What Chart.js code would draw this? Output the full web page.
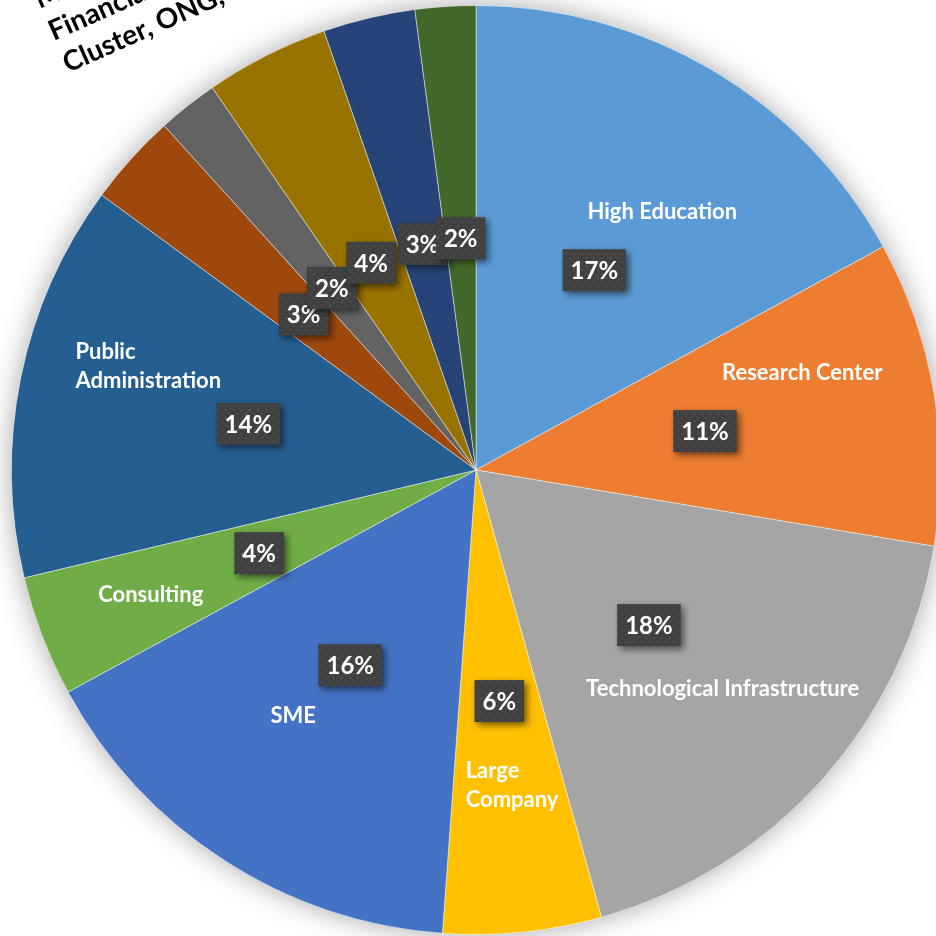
<!DOCTYPE html>
<html>
<head>
<meta charset="utf-8">
<script src="https://cdn.jsdelivr.net/npm/chart.js@4.4.1/dist/chart.umd.min.js"></script>
<style>
  html, body { margin: 0; padding: 0; background: #ffffff; overflow: hidden; width: 936px; height: 936px; }
  #wrap { position: absolute; left: 0; top: 0; width: 952px; height: 940px; }
</style>
</head>
<body>
<div id="wrap"><canvas id="c"></canvas></div>
<script>
// ---- data ----
const categories = [
  "High Education", "Research Center", "Technological Infrastructure", "Large Company",
  "SME", "Consulting", "Public Administration",
  "Media", "Financial Entity", "Cluster", "ONG", "Other"
];
const shares = [17.0, 10.6, 18.0, 5.5, 15.9, 4.2, 13.8, 3.2, 2.1, 4.3, 3.2, 2.1];
const sliceColors = [
  "#5B9BD5", "#ED7D31", "#A5A5A5", "#FFC000", "#4472C4", "#70AD47",
  "#255E91", "#9E480E", "#636363", "#997300", "#264478", "#43682B"
];
// category-name label lines shown inside the large slices (null = not shown inside)
const nameLines = [
  ["High Education"], ["Research Center"], ["Technological Infrastructure"], ["Large", "Company"],
  ["SME"], ["Consulting"], ["Public", "Administration"], null, null, null, null, null
];
// outside (cut-off) label for the small slices
const otherLabelLines = ["Media, Association,", "Financial Entity,", "Cluster, ONG, Other"];

// ---- label placement (polar, relative to each slice) ----
const nameAngleOffsetDeg = [5.2, -7.0, -0.3, -0.75, 3.8, 0, 6.1, 0, 0, 0, 0, 0];
const nameRadiusFrac = [0.685, 0.733, 0.71, 0.684, 0.66, 0.75, 0.74, 0, 0, 0, 0, 0];

const total = shares.reduce((a, b) => a + b, 0);

function makeDotPattern(ctx) {
  const p = document.createElement('canvas');
  p.width = 8; p.height = 8;
  const pc = p.getContext('2d');
  pc.fillStyle = '#404040';
  pc.fillRect(0, 0, 8, 8);
  pc.fillStyle = 'rgba(255,255,255,0.07)';
  pc.beginPath(); pc.arc(2, 2, 1.3, 0, Math.PI * 2); pc.fill();
  pc.beginPath(); pc.arc(6, 6, 1.3, 0, Math.PI * 2); pc.fill();
  return ctx.createPattern(p, 'repeat');
}

const pieShadow = {
  id: 'pieShadow',
  beforeDatasetsDraw(chart) {
    const arc = chart.getDatasetMeta(0).data[0];
    if (!arc) return;
    const { x, y, outerRadius } = arc.getProps(['x', 'y', 'outerRadius'], true);
    const ctx = chart.ctx;
    ctx.save();
    ctx.shadowColor = 'rgba(0,0,0,0.35)';
    ctx.shadowBlur = 28;
    ctx.fillStyle = '#ffffff';
    ctx.beginPath();
    ctx.arc(x, y, outerRadius, 0, Math.PI * 2);
    ctx.fill();
    ctx.restore();
  }
};

const sliceLabels = {
  id: 'sliceLabels',
  afterDatasetsDraw(chart) {
    const ctx = chart.ctx;
    const meta = chart.getDatasetMeta(0);
    const pattern = makeDotPattern(ctx);
    meta.data.forEach((arc, i) => {
      const p = arc.getProps(['x', 'y', 'startAngle', 'endAngle', 'outerRadius'], true);
      const mid = (p.startAngle + p.endAngle) / 2;
      const R = p.outerRadius;
      // names
      const lines = nameLines[i];
      if (lines) {
        const a = mid + nameAngleOffsetDeg[i] * Math.PI / 180;
        const nx = p.x + Math.cos(a) * R * nameRadiusFrac[i];
        const ny = p.y + Math.sin(a) * R * nameRadiusFrac[i];
        ctx.save();
        ctx.font = 'bold 22px Lato, "Open Sans", sans-serif';
        ctx.fillStyle = '#ffffff';
        ctx.textBaseline = 'middle';
        const lh = 29;
        const maxW = Math.max(...lines.map(l => ctx.measureText(l).width));
        const left = nx - maxW / 2;
        lines.forEach((l, k) => {
          const ly = ny + (k - (lines.length - 1) / 2) * lh;
          if (lines.length > 1) { ctx.textAlign = 'left'; ctx.fillText(l, left, ly); }
          else { ctx.textAlign = 'center'; ctx.fillText(l, nx, ly); }
        });
        ctx.restore();
      }
      // percentage box at slice centroid
      const cx = p.x + Math.cos(mid) * R * 0.5;
      const cy = p.y + Math.sin(mid) * R * 0.5;
      const txt = Math.round(shares[i] / total * 100) + '%';
      ctx.save();
      ctx.font = 'bold 24px Lato, "Open Sans", sans-serif';
      const tw = ctx.measureText(txt).width;
      const bw = tw + 16, bh = 42;
      ctx.shadowColor = 'rgba(0,0,0,0.55)';
      ctx.shadowBlur = 7;
      ctx.shadowOffsetX = 3;
      ctx.shadowOffsetY = 3;
      ctx.fillStyle = pattern;
      ctx.fillRect(cx - bw / 2, cy - bh / 2, bw, bh);
      ctx.shadowColor = 'transparent';
      ctx.fillStyle = '#ffffff';
      ctx.textAlign = 'center';
      ctx.textBaseline = 'middle';
      ctx.fillText(txt, cx, cy + 1);
      ctx.restore();
    });
  },
  afterDraw(chart) {
    const ctx = chart.ctx;
    ctx.save();
    ctx.translate(68, 73);
    ctx.rotate(-24 * Math.PI / 180);
    ctx.font = 'bold 28px Lato, "Open Sans", sans-serif';
    ctx.fillStyle = '#000000';
    ctx.textAlign = 'left';
    ctx.textBaseline = 'alphabetic';
    const n = otherLabelLines.length;
    otherLabelLines.forEach((l, k) => {
      ctx.fillText(l, 0, -(n - 1 - k) * 35);
    });
    ctx.restore();
  }
};

new Chart(document.getElementById('c'), {
  type: 'pie',
  data: {
    labels: categories,
    datasets: [{
      data: shares,
      backgroundColor: sliceColors,
      borderColor: 'rgba(255,255,255,0.45)',
      borderWidth: 1
    }]
  },
  options: {
    responsive: true,
    maintainAspectRatio: false,
    animation: false,
    layout: { padding: { left: 11, right: 11, top: 5, bottom: 5 } },
    plugins: { legend: { display: false }, tooltip: { enabled: false } }
  },
  plugins: [pieShadow, sliceLabels]
});
</script>
</body>
</html>
